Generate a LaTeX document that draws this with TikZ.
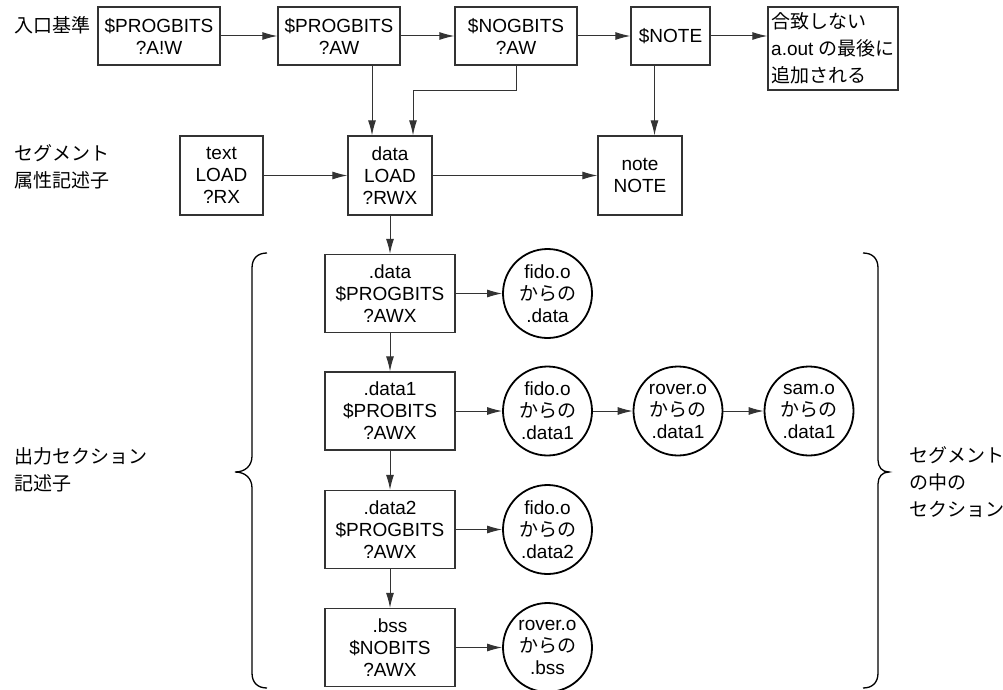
\documentclass[tikz,border=0pt]{standalone}
\usepackage{fontspec}
\setmainfont{Liberation Sans}
\newfontfamily\jp{Noto Sans CJK JP}
\usetikzlibrary{arrows.meta}

\begin{document}
\begin{tikzpicture}[x=1pt, y=-1pt,
    box/.style={draw=black!80, line width=1.3pt, align=center, inner sep=0pt,
        font=\fontsize{19}{22}\selectfont},
    sect/.style={circle, draw, line width=1.8pt, minimum size=89pt, inner sep=0pt,
        align=center, font=\fontsize{19}{22}\selectfont},
    lbl/.style={anchor=west, align=left, font=\jp\fontsize{19}{27}\selectfont},
    flow/.style={-{Latex[length=15pt,width=8pt]}, line width=1pt, black!80}]
    \useasboundingbox (0,0) rectangle (1003,690);

    % Input criteria
    \node[lbl] (critlbl) at (11,25) {入口基準};
    \node[box, minimum width=122, minimum height=58] (a1) at (159,36) {\$PROGBITS\\?A!W};
    \node[box, minimum width=122, minimum height=58] (a2) at (339,36) {\$PROGBITS\\?AW};
    \node[box, minimum width=122, minimum height=58] (a3) at (516,36) {\$NOGBITS\\?AW};
    \node[box, minimum width=79, minimum height=58] (a4) at (670.5,36) {\$NOTE};
    \node[box, minimum width=130, minimum height=83, align=left,
        font=\fontsize{19}{27}\selectfont] (a5) at (833,48.5)
        {{\jp 合致しない}\\a.out {\jp の最後に}\\{\jp 追加される}};
    \draw[flow] (a1) -- (a2);
    \draw[flow] (a2) -- (a3);
    \draw[flow] (a3) -- (a4);
    \draw[flow] (a4.east) -- (a4.east -| a5.west);

    % Segment descriptors
    \node[lbl] (seglbl) at (11,166.5) {セグメント\\属性記述子};
    \node[box, minimum width=83, minimum height=79] (text) at (221.5,175.5) {text\\LOAD\\?RX};
    \node[box, minimum width=84, minimum height=79] (data) at (390,175.5) {data\\LOAD\\?RWX};
    \node[box, minimum width=84, minimum height=79] (note) at (640,175.5) {note\\NOTE};
    \draw[flow] (text) -- (data);
    \draw[flow] (data) -- (note);
    \draw[flow] ([xshift=33pt]a2.south) -- ([xshift=-18pt]data.north);
    \draw[flow] (a3.south) -- ++(0,25) -| ([xshift=23pt]data.north);
    \draw[flow] ([xshift=-16pt]a4.south) -- ([xshift=-16pt]a4.south |- note.north);

    % Output section descriptors
    \node[lbl] (outlbl) at (11,470) {出力セクション\\記述子};
    \node[box, minimum width=130, minimum height=78] (d0) at (390,293.5) {.data\\\$PROGBITS\\?AWX};
    \node[box, minimum width=130, minimum height=78] (d1) at (390,411) {.data1\\\$PROBITS\\?AWX};
    \node[box, minimum width=130, minimum height=78] (d2) at (390,529.5) {.data2\\\$PROGBITS\\?AWX};
    \node[box, minimum width=130, minimum height=78] (d3) at (390,647.5) {.bss\\\$NOBITS\\?AWX};
    \draw[flow] (data) -- (d0);
    \draw[flow] (d0) -- (d1);
    \draw[flow] (d1) -- (d2);
    \draw[flow] (d2) -- (d3);

    % Input sections
    \node[sect] (s0) at (547.5,293.5) {fido.o\\{\jp からの}\\.data};
    \node[sect] (s1) at (547.5,411) {fido.o\\{\jp からの}\\.data1};
    \node[sect] (s1b) at (678,411) {rover.o\\{\jp からの}\\.data1};
    \node[sect] (s1c) at (809,411) {sam.o\\{\jp からの}\\.data1};
    \node[sect] (s2) at (547.5,529.5) {fido.o\\{\jp からの}\\.data2};
    \node[sect] (s3) at (547.5,647.5) {rover.o\\{\jp からの}\\.bss};
    \draw[flow] (d0) -- (s0);
    \draw[flow] (d1) -- (s1);
    \draw[flow] (s1) -- (s1b);
    \draw[flow] (s1b) -- (s1c);
    \draw[flow] (d2) -- (s2);
    \draw[flow] (d3) -- (s3);

    % Braces
    \draw[line width=1.3pt] (267,253) .. controls (258,253) and (252,258) .. (252,268)
        -- (252,456) .. controls (252,466) and (245,472) .. (235,472)
        .. controls (245,472) and (252,478) .. (252,488)
        -- (252,673) .. controls (252,683) and (258,688) .. (267,688);
    \draw[line width=1.3pt] (863,253) .. controls (872,253) and (878,258) .. (878,268)
        -- (878,460) .. controls (878,467) and (882,472) .. (889,472)
        .. controls (882,472) and (878,477) .. (878,484)
        -- (878,673) .. controls (878,683) and (872,688) .. (863,688);
    \node[lbl] (inlbl) at (906,482) {セグメント\\の中の\\セクション};
\end{tikzpicture}
\end{document}
